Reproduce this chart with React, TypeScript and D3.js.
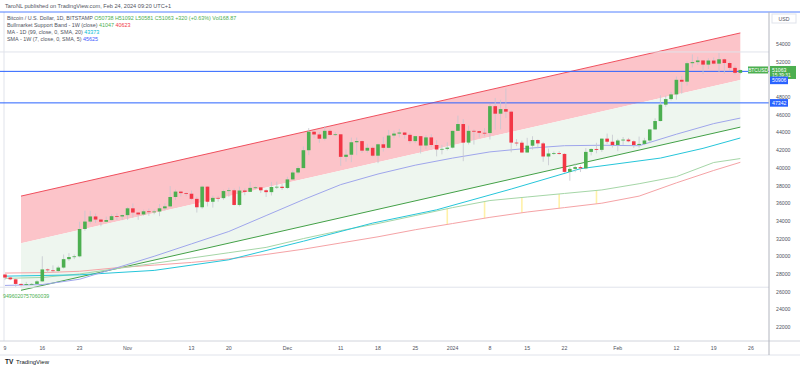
import * as d3 from "d3";

const W = 800;
const H = 370;
const PLOT_RIGHT = 769;

const START = "2023-10-09";

// daily candles Oct 9 2023 .. Feb 24 2024: [open, high, low, close]
const candles: number[][] = [
  [27935, 27990, 27300, 27590], [27590, 27740, 27290, 27390], [27390, 27480, 26550, 26870], [26870, 26930, 26560, 26760],
  [26760, 27100, 26690, 26860], [26860, 26960, 26810, 26870], [26870, 27290, 26830, 27160], [27160, 30000, 27120, 28510],
  [28510, 28610, 28100, 28410], [28410, 28970, 28140, 28330], [28330, 28920, 28180, 28720], [28720, 30200, 28610, 29670],
  [29670, 30350, 29470, 29910], [29910, 30200, 29680, 29990], [29990, 33900, 29880, 33080], [33080, 35150, 32880, 33920],
  [33920, 35130, 33700, 34500], [34500, 34830, 33760, 34150], [34150, 34240, 33390, 33900], [33900, 34480, 33880, 34090],
  [34090, 34750, 34060, 34530], [34530, 34850, 34080, 34500], [34500, 34720, 34080, 34650],
  // Nov
  [34650, 35570, 34110, 35420], [35420, 35960, 34380, 34940], [34940, 34940, 34120, 34730], [34730, 35260, 34600, 35080],
  [35080, 35380, 34570, 35040], [35040, 35280, 34750, 35060], [35060, 35900, 34540, 35420], [35420, 35980, 35150, 35640],
  [35640, 37930, 35550, 36700], [36700, 37530, 36350, 37310], [37310, 37400, 36750, 37140], [37140, 37230, 36790, 37070],
  [37070, 37430, 36350, 36490], [36490, 36750, 34940, 35540], [35540, 37980, 35370, 37870], [37870, 37930, 35640, 36160],
  [36160, 36850, 35500, 36600], [36600, 36830, 36170, 36570], [36570, 37510, 36390, 37370], [37370, 37750, 36720, 37460],
  [37460, 37650, 35740, 35800], [35800, 37870, 35640, 37430], [37430, 37660, 36900, 37280], [37280, 38420, 37260, 37730],
  [37730, 37900, 37620, 37790], [37790, 37830, 37150, 37460], [37460, 37570, 36700, 37250], [37250, 38400, 36870, 37830],
  [37830, 38440, 37600, 37860], [37860, 38170, 37500, 37720],
  // Dec
  [37720, 38990, 37620, 38690], [38690, 39720, 38650, 39470], [39470, 40200, 39280, 39970], [39970, 42420, 39970, 41990],
  [41990, 44490, 41440, 44080], [44080, 44300, 43350, 43770], [43770, 44050, 42830, 43290], [43290, 44720, 43100, 44180],
  [44180, 44350, 43620, 43720], [43720, 44040, 43600, 43790], [43790, 43800, 40230, 41240], [41240, 42070, 40700, 41480],
  [41480, 43420, 40640, 42890], [42890, 43410, 41440, 43020], [43020, 43090, 41680, 41940], [41940, 42720, 41700, 42260],
  [42260, 42430, 41250, 41370], [41370, 42740, 40530, 42660], [42660, 43500, 41840, 42260], [42260, 44280, 42200, 43650],
  [43650, 44200, 43340, 43870], [43870, 44400, 43440, 43990], [43990, 44040, 43300, 43730], [43730, 43950, 42750, 43020],
  [43020, 43600, 42800, 43580], [43580, 43600, 41620, 42520], [42520, 43680, 42110, 43440], [43440, 43800, 42330, 42580],
  [42580, 43130, 41300, 42070], [42070, 42590, 41520, 42140], [42140, 42890, 41970, 42280],
  // Jan
  [42280, 44190, 42190, 44180], [44180, 45900, 44180, 44950], [44950, 45500, 40750, 42850], [42850, 44770, 42640, 44180],
  [44180, 44330, 42630, 44150], [44150, 44210, 43420, 43960], [43960, 44490, 43580, 43930], [43930, 47220, 43200, 46970],
  [46970, 47900, 44310, 46120], [46120, 47690, 44350, 46640], [46640, 48970, 45630, 46350], [46350, 46500, 41750, 42850],
  [42850, 43250, 42450, 42840], [42840, 43080, 41730, 41730], [41730, 43390, 41730, 42500], [42500, 43570, 42060, 43140],
  [43140, 43200, 42200, 42760], [42760, 42930, 40680, 41280], [41280, 42170, 40290, 41620], [41620, 41840, 41460, 41670],
  [41670, 41880, 41480, 41570], [41570, 41650, 39450, 39540], [39540, 40150, 38540, 39880], [39880, 40520, 39500, 40080],
  [40080, 40280, 39520, 39940], [39940, 42230, 39830, 41800], [41800, 42200, 41400, 42130], [42130, 42830, 41640, 42030],
  [42030, 43300, 41800, 43300], [43300, 43870, 42700, 42950], [42950, 43740, 42290, 42580],
  // Feb
  [42580, 43280, 41880, 43090], [43090, 43480, 42600, 43190], [43190, 43380, 42890, 43000], [43000, 43110, 42250, 42580],
  [42580, 43530, 42270, 42700], [42700, 43390, 42570, 43090], [43090, 44360, 42790, 44340], [44340, 45600, 44340, 45290],
  [45290, 48200, 45250, 47140], [47140, 48170, 46900, 47770], [47770, 48580, 47620, 48300], [48300, 50330, 47710, 49950],
  [49950, 50360, 48370, 49740], [49740, 52030, 49290, 51830], [51830, 52820, 51350, 51950], [51950, 52570, 51640, 52140],
  [52140, 52180, 50600, 51670], [51670, 52380, 51180, 52130], [52130, 52480, 51700, 51780], [51780, 52980, 50780, 52270],
  [52270, 52370, 50640, 51850], [51850, 52020, 50940, 51300], [51300, 51540, 50560, 50740], [50738, 51092, 50581, 51063],
];

// MA 1D (99) - cyan
const ma99: [string, number][] = [
  ["2023-10-09", 27750], ["2023-10-23", 27900], ["2023-11-06", 28400], ["2023-11-20", 29600],
  ["2023-12-04", 31700], ["2023-12-17", 33750], ["2023-12-29", 35250], ["2024-01-12", 37600],
  ["2024-01-25", 39900], ["2024-02-09", 41100], ["2024-02-17", 42200], ["2024-02-24", 43373],
];

// SMA 1W (7) - lavender
const sma7w: [string, number][] = [
  ["2023-10-09", 26700], ["2023-10-16", 26800], ["2023-10-23", 27400], ["2023-10-30", 28700],
  ["2023-11-06", 30000], ["2023-11-13", 31400], ["2023-11-20", 32800], ["2023-11-27", 34600],
  ["2023-12-04", 36400], ["2023-12-11", 38100], ["2023-12-18", 39300], ["2023-12-25", 40300],
  ["2024-01-01", 41100], ["2024-01-08", 41800], ["2024-01-15", 42200], ["2024-01-22", 42500],
  ["2024-01-29", 42550], ["2024-02-05", 42500], ["2024-02-12", 43800], ["2024-02-19", 45000],
  ["2024-02-24", 45625],
];

// Bull market support band (weekly)
const bandGreen: [string, number][] = [
  ["2023-10-09", 27500], ["2023-10-16", 27600], ["2023-10-23", 28000], ["2023-10-30", 28600],
  ["2023-11-06", 29200], ["2023-11-13", 29800], ["2023-11-20", 30400], ["2023-11-27", 31000],
  ["2023-12-04", 32000], ["2023-12-11", 32900], ["2023-12-18", 33700], ["2023-12-25", 34600],
  ["2024-01-01", 35500], ["2024-01-08", 36300], ["2024-01-15", 36700], ["2024-01-22", 37100],
  ["2024-01-29", 37500], ["2024-02-05", 38200], ["2024-02-12", 39000], ["2024-02-19", 40600],
  ["2024-02-24", 41047],
];
const bandRed: [string, number][] = [
  ["2023-10-09", 28100], ["2023-10-16", 28150], ["2023-10-23", 28300], ["2023-10-30", 28700],
  ["2023-11-06", 29000], ["2023-11-13", 29300], ["2023-11-20", 29700], ["2023-11-27", 30200],
  ["2023-12-04", 30800], ["2023-12-11", 31500], ["2023-12-18", 32200], ["2023-12-25", 33000],
  ["2024-01-01", 33700], ["2024-01-08", 34400], ["2024-01-15", 35000], ["2024-01-22", 35500],
  ["2024-01-29", 36000], ["2024-02-05", 36800], ["2024-02-12", 38300], ["2024-02-19", 39700],
  ["2024-02-24", 40623],
];
// weekly-close bars where the band fill shows as a thin sliver
const bandFillDates = ["2023-12-31", "2024-01-07", "2024-01-14", "2024-01-21", "2024-01-28"];

// parallel channel drawing
const channelDates = ["2023-10-12", "2024-02-24"];
const channelTop = [36800, 55250];
const channelBottom = [26150, 44600];

const blueLevels = [50906, 47342];
const greyLevels = [53100, 26500];

const yTicks = [22000, 24000, 26000, 28000, 30000, 32000, 34000, 36000, 38000, 40000, 42000, 44000, 46000, 48000, 52000, 54000];
const xTicks: [string, string][] = [
  ["2023-10-09", "9"], ["2023-10-16", "16"], ["2023-10-23", "23"], ["2023-11-01", "Nov"], ["2023-11-13", "13"],
  ["2023-11-20", "20"], ["2023-12-01", "Dec"], ["2023-12-11", "11"], ["2023-12-18", "18"], ["2023-12-25", "25"],
  ["2024-01-01", "2024"], ["2024-01-08", "8"], ["2024-01-15", "15"], ["2024-01-22", "22"], ["2024-02-01", "Feb"],
  ["2024-02-12", "12"], ["2024-02-19", "19"], ["2024-02-26", "26"],
];

const UP = "#4caf50";
const DOWN = "#f23645";
const FONT = "'Liberation Sans', Arial, sans-serif";

const parse = d3.utcParse("%Y-%m-%d");

export default function App() {
  const x = d3.scaleUtc().domain([parse("2023-10-09")!, parse("2024-02-26")!]).range([5, 751]);
  const y = d3.scaleLinear().domain([22000, 54000]).range([327, 44]);

  const start = parse(START)!;
  const dates = candles.map((_, i) => d3.utcDay.offset(start, i));

  const line = d3.line<[string, number]>().x((d) => x(parse(d[0])!)).y((d) => y(d[1]));

  const cd = channelDates.map((d) => x(parse(d)!));
  const cMid = channelTop.map((v, i) => (v + channelBottom[i]) / 2);
  const poly = (a: number[], b: number[]) =>
    `M${cd[0]},${y(a[0])}L${cd[1]},${y(a[1])}L${cd[1]},${y(b[1])}L${cd[0]},${y(b[0])}Z`;

  // value of a weekly series at an arbitrary date (straight segments between points)
  const at = (s: [string, number][], d: Date) =>
    d3.scaleUtc().domain(s.map((p) => parse(p[0])!)).range(s.map((p) => p[1]))(d);

  const bw = 3.6;
  const last = candles[candles.length - 1];

  return (
    <svg width={W} height={H} style={{ position: "absolute", left: 0, top: 0, background: "#fff" }} fontFamily={FONT}>
      <rect width={W} height={H} fill="#fff" />
      <text x={5} y={8} fontSize={5.6} fill="#50535e">TaroNL published on TradingView.com, Feb 24, 2024 09:20 UTC+1</text>

      {/* channel */}
      <path d={poly(channelTop, cMid)} fill="#fcc4c9" />
      <path d={poly(cMid, channelBottom)} fill="#eef6ef" />
      <line x1={cd[0]} x2={cd[1]} y1={y(channelTop[0])} y2={y(channelTop[1])} stroke="#f0505e" strokeWidth={1} />
      <line x1={cd[0]} x2={cd[1]} y1={y(channelBottom[0])} y2={y(channelBottom[1])} stroke="#43a047" strokeWidth={1} />

      {/* grey levels and marker line */}
      {greyLevels.map((v) => (
        <line key={v} x1={0} x2={PLOT_RIGHT} y1={y(v)} y2={y(v)} stroke="#e0e3eb" strokeWidth={1} />
      ))}
      <line x1={4} x2={4} y1={12} y2={341} stroke="#e0e3eb" strokeWidth={1} />
      <text x={3} y={298} fontSize={5.2} fill="#4caf50">9496020757060039</text>

      {/* indicators */}
      {bandFillDates.map((d) => {
        const dd = parse(d)!;
        return (
          <line key={d} x1={x(dd)} x2={x(dd)} y1={y(at(bandGreen, dd))} y2={y(at(bandRed, dd))}
            stroke="#fff1a8" strokeWidth={1.6} />
        );
      })}
      <path d={line(bandRed)!} fill="none" stroke="#f5a3a6" strokeWidth={1} />
      <path d={line(bandGreen)!} fill="none" stroke="#a5d6a7" strokeWidth={1} />
      <path d={line(ma99)!} fill="none" stroke="#26c6da" strokeWidth={1} />
      <path d={line(sma7w)!} fill="none" stroke="#9fa6ec" strokeWidth={1} />

      {/* blue levels */}
      {blueLevels.map((v) => (
        <line key={v} x1={0} x2={PLOT_RIGHT} y1={y(v)} y2={y(v)} stroke="#2962ff" strokeWidth={1} />
      ))}

      {/* candles */}
      {candles.map((c, i) => {
        const [o, h, l, cl] = c;
        const cx = x(dates[i]);
        const col = cl >= o ? UP : DOWN;
        const t = y(Math.max(o, cl));
        const b = y(Math.min(o, cl));
        return (
          <g key={i}>
            <line x1={cx} x2={cx} y1={y(h)} y2={y(l)} stroke="#c5c7cf" strokeWidth={0.8} />
            <rect x={cx - bw / 2} y={t} width={bw} height={Math.max(0.8, b - t)} fill={col} />
          </g>
        );
      })}

      {/* last price marker in plot */}
      <rect x={748} y={y(last[3]) - 3.5} width={20} height={7} fill={UP} />
      <text x={758} y={y(last[3]) + 2} fontSize={4.8} fill="#fff" textAnchor="middle">BTCUSD</text>

      {/* frame */}
      <line x1={0} x2={W} y1={12} y2={12} stroke="#2962ff" strokeWidth={1} opacity={0.8} />
      <line x1={0} x2={W} y1={341} y2={341} stroke="#d1d4dc" />
      <line x1={0} x2={W} y1={355} y2={355} stroke="#e0e3eb" />
      <line x1={PLOT_RIGHT} x2={PLOT_RIGHT} y1={12} y2={355} stroke="#b2b5be" />

      {/* legend */}
      <g fontSize={5.4} fill="#50535e">
        <text x={7} y={20}>
          Bitcoin / U.S. Dollar, 1D, BITSTAMP{"  "}
          <tspan fill={UP}>O50738 H51092 L50581 C51063 +320 (+0.63%) Vol168.87</tspan>
        </text>
        <text x={7} y={27}>
          Bullmarket Support Band - 1W (close){"  "}
          <tspan fill="#4caf50">41047</tspan> <tspan fill="#f23645">40623</tspan>
        </text>
        <text x={7} y={34}>
          MA - 1D (99, close, 0, SMA, 20){"  "}<tspan fill="#00bcd4">43373</tspan>
        </text>
        <text x={7} y={41}>
          SMA - 1W (7, close, 0, SMA, 5){"  "}<tspan fill="#3d5afe">45625</tspan>
        </text>
      </g>

      {/* right axis */}
      <rect x={772} y={14} width={24} height={9} fill="#fff" stroke="#e0e3eb" />
      <text x={784} y={20.5} fontSize={5.2} fill="#50535e" textAnchor="middle">USD</text>
      {yTicks.map((t) => (
        <text key={t} x={776} y={y(t) + 2} fontSize={5.2} fill="#50535e">{t}</text>
      ))}
      <rect x={770} y={y(last[3]) - 4} width={26} height={13} fill={UP} />
      <text x={772} y={y(last[3]) + 1.8} fontSize={5.2} fill="#fff">{last[3]}</text>
      <text x={772} y={y(last[3]) + 7.5} fontSize={4.8} fill="#fff">15:39:31</text>
      {blueLevels.map((v, i) => {
        const yy = i === 0 ? y(v) + 9 : y(v);
        return (
          <g key={v}>
            <rect x={770} y={yy - 3.8} width={18} height={7.6} fill="#2962ff" />
            <text x={772} y={yy + 2} fontSize={5.2} fill="#fff">{v}</text>
          </g>
        );
      })}

      {/* bottom axis */}
      {xTicks.map(([d, l]) => (
        <text key={d} x={x(parse(d)!)} y={350} fontSize={5.2} fill="#50535e" textAnchor="middle">{l}</text>
      ))}

      {/* footer */}
      <text x={5} y={364} fontSize={6.5} fontWeight="bold" fill="#131722">TV</text>
      <text x={16} y={364} fontSize={6} fill="#131722">TradingView</text>
    </svg>
  );
}
